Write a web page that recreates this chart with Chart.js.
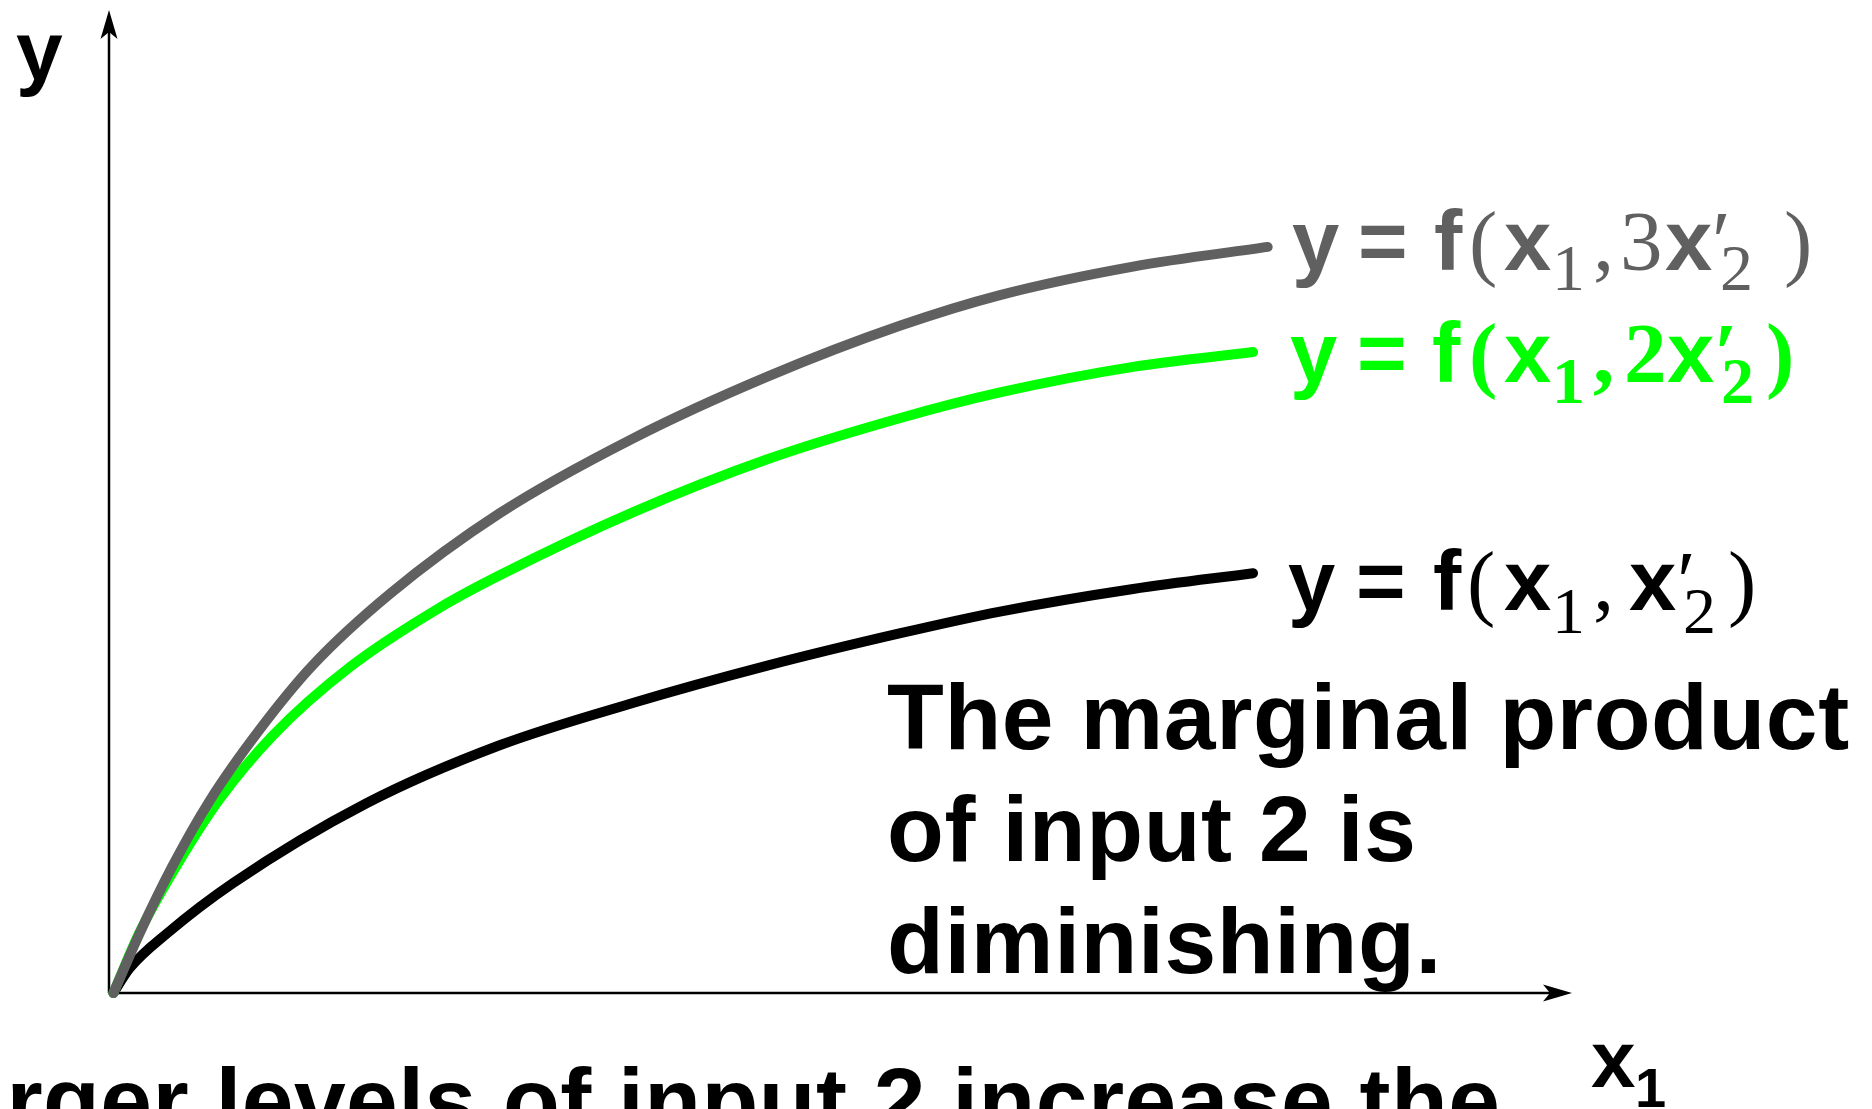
<!DOCTYPE html>
<html>
<head>
<meta charset="utf-8">
<script src="https://cdn.jsdelivr.net/npm/chart.js@4"></script>
<style>
  body { margin: 0; background: #fff; }
  canvas { display: block; }
</style>
</head>
<body>
<canvas id="myChart" width="1872" height="1109"></canvas>
<script>
// curves (x1 along the bottom, y up the side)
const xHigh = [0.03, 0.21, 0.43, 0.69, 1.02, 1.39, 1.92, 2.67, 3.58, 4.50, 5.41, 6.09, 7.00, 7.92];
const yHigh = [0, 0.61, 1.28, 1.96, 2.66, 3.33, 4.06, 4.88, 5.64, 6.27, 6.79, 7.10, 7.39, 7.59];

const xMid = [0.03, 0.21, 0.46, 0.75, 1.12, 1.65, 2.26, 2.67, 3.58, 4.50, 5.41, 6.09, 7.00, 7.82];
const yMid = [0, 0.62, 1.29, 1.96, 2.62, 3.32, 3.92, 4.25, 4.89, 5.43, 5.85, 6.11, 6.37, 6.52];

const xLow = [0.03, 0.14, 0.40, 0.85, 1.76, 2.67, 3.58, 4.50, 5.41, 6.09, 7.00, 7.82];
const yLow = [0, 0.25, 0.61, 1.12, 1.93, 2.52, 2.95, 3.33, 3.66, 3.88, 4.11, 4.27];

const grey = '#606060';
const green = '#00ff00';

function pts(xs, ys) {
  return xs.map((x, i) => ({ x: x, y: ys[i] }));
}

const SANS = '"Liberation Sans", Arial, sans-serif';
const SERIF = '"Liberation Serif", "Times New Roman", serif';

// pieces: text, font, x, baseline shift
const curveLabels = [
  { color: grey, base: 270, pieces: [
    ['y', 'bold 85px ' + SANS, 1292, 0],
    ['=', 'bold 85px ' + SANS, 1358, 0],
    ['f', 'bold 85px ' + SANS, 1434, 0],
    ['(', '85px ' + SERIF, 1469, 0],
    ['x', 'bold 85px ' + SANS, 1504, 0],
    ['1', '66px ' + SERIF, 1552, 20],
    [',', '85px ' + SERIF, 1593, 0],
    ['3', '85px ' + SERIF, 1620, 0],
    ['x', 'bold 85px ' + SANS, 1665, 0],
    ['\u2032', '85px ' + SERIF, 1712, 0],
    ['2', '66px ' + SERIF, 1720, 20],
    [')', '85px ' + SERIF, 1784, 0]
  ]},
  { color: green, base: 382, pieces: [
    ['y', 'bold 85px ' + SANS, 1290, 0],
    ['=', 'bold 85px ' + SANS, 1357, 0],
    ['f', 'bold 85px ' + SANS, 1432, 0],
    ['(', 'bold 85px ' + SERIF, 1469, 0],
    ['x', 'bold 85px ' + SANS, 1504, 0],
    ['1', 'bold 66px ' + SERIF, 1552, 21],
    [',', 'bold 85px ' + SERIF, 1593, 0],
    ['2', 'bold 85px ' + SERIF, 1624, 0],
    ['x', 'bold 85px ' + SANS, 1667, 0],
    ['\u2032', 'bold 85px ' + SERIF, 1714, 0],
    ['2', 'bold 66px ' + SERIF, 1721, 21],
    [')', 'bold 85px ' + SERIF, 1766, 0]
  ]},
  { color: '#000', base: 610, pieces: [
    ['y', 'bold 85px ' + SANS, 1288, 0],
    ['=', 'bold 85px ' + SANS, 1356, 0],
    ['f', 'bold 85px ' + SANS, 1433, 0],
    ['(', '85px ' + SERIF, 1467, 0],
    ['x', 'bold 85px ' + SANS, 1504, 0],
    ['1', '66px ' + SERIF, 1552, 23],
    [',', '85px ' + SERIF, 1593, 0],
    ['x', 'bold 85px ' + SANS, 1629, 0],
    ['\u2032', '85px ' + SERIF, 1677, 0],
    ['2', '66px ' + SERIF, 1683, 23],
    [')', '85px ' + SERIF, 1728, 0]
  ]}
];

const noteLines = ['The marginal product', 'of input 2 is', 'diminishing.'];
const bottomLine = 'Larger levels of input 2 increase the';

function arrow(c, tipX, tipY, dx, dy) {
  // stealth arrow head pointing along (dx, dy)
  const len = 29, half = 8.5, notch = 22;
  const px = -dy, py = dx;
  c.beginPath();
  c.moveTo(tipX, tipY);
  c.lineTo(tipX - dx * len + px * half, tipY - dy * len + py * half);
  c.lineTo(tipX - dx * notch, tipY - dy * notch);
  c.lineTo(tipX - dx * len - px * half, tipY - dy * len - py * half);
  c.closePath();
  c.fill();
}

const axesPlugin = {
  id: 'axes',
  beforeDatasetsDraw(chart) {
    const c = chart.ctx;
    const a = chart.chartArea;
    c.save();
    c.strokeStyle = '#000';
    c.fillStyle = '#000';
    c.lineWidth = 2.5;
    c.beginPath();
    c.moveTo(a.left, a.bottom);
    c.lineTo(a.left, a.top + 12);
    c.moveTo(a.left, a.bottom);
    c.lineTo(a.right - 12, a.bottom);
    c.stroke();
    arrow(c, a.left, a.top, 0, -1);
    arrow(c, a.right, a.bottom, 1, 0);
    c.restore();
  }
};

const textPlugin = {
  id: 'texts',
  afterDraw(chart) {
    const c = chart.ctx;
    c.save();
    c.textAlign = 'left';
    c.textBaseline = 'alphabetic';

    curveLabels.forEach(l => {
      c.fillStyle = l.color;
      l.pieces.forEach(p => {
        c.font = p[1];
        c.fillText(p[0], p[2], l.base + p[3]);
      });
    });

    c.fillStyle = '#000';
    c.font = 'bold 84px ' + SANS;
    c.fillText('y', 16, 80);
    c.font = 'bold 80px ' + SANS;
    c.fillText('x', 1591, 1087);
    c.font = 'bold 56px ' + SANS;
    c.fillText('1', 1635, 1107);

    c.font = 'bold 93px ' + SANS;
    c.letterSpacing = '0.6px';
    noteLines.forEach((t, i) => c.fillText(t, 887, 749 + i * 112));
    c.letterSpacing = '0.45px';
    c.fillText(bottomLine, -103, 1133);
    c.restore();
  }
};

const lineStyle = {
  showLine: true,
  pointRadius: 0,
  borderWidth: 10,
  cubicInterpolationMode: 'monotone',
  borderCapStyle: 'round',
  borderJoinStyle: 'round',
  clip: false
};

const ctx = document.getElementById('myChart');
new Chart(ctx, {
  type: 'scatter',
  data: {
    datasets: [
      Object.assign({ data: pts(xHigh, yHigh), borderColor: grey }, lineStyle),
      Object.assign({ data: pts(xMid, yMid), borderColor: green }, lineStyle),
      Object.assign({ data: pts(xLow, yLow), borderColor: '#000' }, lineStyle)
    ]
  },
  options: {
    responsive: false,
    animation: false,
    devicePixelRatio: 1,
    layout: { padding: { left: 109, right: 300, top: 10, bottom: 116 } },
    plugins: {
      legend: { display: false },
      tooltip: { enabled: false }
    },
    scales: {
      x: { type: 'linear', min: 0, max: 10, display: false },
      y: { min: 0, max: 10, display: false }
    }
  },
  plugins: [axesPlugin, textPlugin]
});
</script>
</body>
</html>
